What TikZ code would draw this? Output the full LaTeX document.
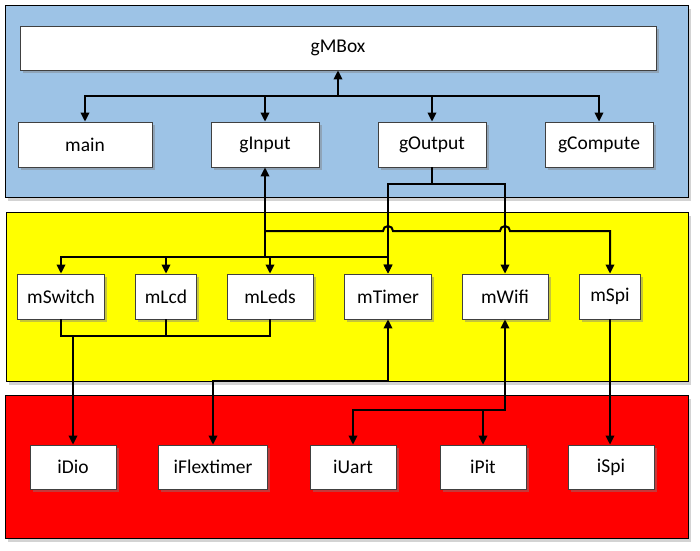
\documentclass[tikz,border=0pt]{standalone}
\usepackage{fontspec}
\setmainfont{Carlito}
\usetikzlibrary{shadows,arrows.meta,calc}
\definecolor{pblue}{RGB}{157,195,230}
\definecolor{pyellow}{RGB}{255,255,0}
\definecolor{pred}{RGB}{255,0,0}
\tikzset{
  box/.style={draw=black!75, fill=white, line width=0.8pt, minimum height=45pt, inner sep=0pt,
    font=\fontsize{19.5}{23}\selectfont,
    drop shadow={shadow xshift=2.5pt, shadow yshift=-2.5pt, opacity=0.45}},
  panel/.style={draw=black, line width=0.9pt, inner sep=0pt,
    drop shadow={shadow xshift=3pt, shadow yshift=-3.5pt, opacity=0.35}},
  conn/.style={line width=2pt, draw=black},
  arr/.style={-{Triangle[width=8.5pt,length=9pt]}},
  arrboth/.style={{Triangle[width=8.5pt,length=9pt]}-{Triangle[width=8.5pt,length=9pt]}},
  arrback/.style={{Triangle[width=8.5pt,length=9pt]}-}
}
\begin{document}
\begin{tikzpicture}[x=1pt,y=-1pt]
\useasboundingbox (0,0) rectangle (700,550);
% panels
\node[panel, fill=pblue, minimum width=683pt, minimum height=192pt] (pBlue) at (346.5,101) {};
\node[panel, fill=pyellow, minimum width=682pt, minimum height=169pt] (pYellow) at (347,296.5) {};
\node[panel, fill=pred, minimum width=683pt, minimum height=143pt] (pRed) at (346.5,466.5) {};
% top row
\node[box, minimum width=636pt, minimum height=44pt] (gMBox) at (338,48) {gMBox};
\node[box, minimum width=134pt] (main) at (85,144.5) {main};
\node[box, minimum width=108pt] (gInput) at (265,144.5) {gInput};
\node[box, minimum width=108pt] (gOutput) at (432,144.5) {gOutput};
\node[box, minimum width=108pt] (gCompute) at (599,144.5) {gCompute};
% middle row
\node[box, minimum width=87pt] (mSwitch) at (61,296.5) {mSwitch};
\node[box, minimum width=61pt] (mLcd) at (166,296.5) {mLcd};
\node[box, minimum width=86pt] (mLeds) at (270,296.5) {mLeds};
\node[box, minimum width=87pt] (mTimer) at (388,296.5) {mTimer};
\node[box, minimum width=86pt] (mWifi) at (505,296.5) {mWifi};
\node[box, minimum width=61pt] (mSpi) at (610,296.5) {mSpi};
% bottom row
\node[box, minimum width=86pt, minimum height=44pt] (iDio) at (73,467) {iDio};
\node[box, minimum width=109pt, minimum height=44pt] (iFlextimer) at (213,467) {iFlextimer};
\node[box, minimum width=86pt, minimum height=44pt] (iUart) at (353,467) {iUart};
\node[box, minimum width=86pt, minimum height=44pt] (iPit) at (483,467) {iPit};
\node[box, minimum width=86pt, minimum height=44pt] (iSpi) at (611,467) {iSpi};
% routing levels
\coordinate (yBus) at (0,96);
\coordinate (yOut) at (0,184);
\coordinate (ySpi) at (0,231);
\coordinate (yIn) at (0,257);
\coordinate (yDio) at (0,336);
\coordinate (yFlex) at (0,381);
\coordinate (yWifi) at (0,410);
% gMBox bus
\coordinate (busC) at (gMBox.south |- yBus);
\draw[conn,arr] (busC) -- (gMBox.south);
\draw[conn,arr] (busC) -| (main.north);
\draw[conn,arr] (busC) -| (gInput.north);
\draw[conn,arr] (busC) -| (gOutput.north);
\draw[conn,arr] (busC) -| (gCompute.north);
% gOutput
\coordinate (jOut) at (gOutput.south |- yOut);
\draw[conn] (gOutput.south) -- (jOut);
\draw[conn,arr] (jOut) -| (mTimer.north);
\draw[conn,arr] (jOut) -| (mWifi.north);
% gInput
\coordinate (jIn) at (gInput.south |- yIn);
\coordinate (jSpi) at (gInput.south |- ySpi);
\draw[conn, arrback] (gInput.south) -- (jIn);
\draw[conn,arr] (jIn) -| (mSwitch.north);
\draw[conn,arr] (jIn) -| (mLcd.north);
\draw[conn,arr] (jIn) -| (mLeds.north);
\draw[conn,arr] (jIn) -| (mTimer.north);
\draw[conn,arr] (jSpi) -- ($(mTimer.north |- ySpi)+(-5,0)$)
  arc[start angle=180, end angle=0, radius=5pt]
  -- ($(mWifi.north |- ySpi)+(-5,0)$)
  arc[start angle=180, end angle=0, radius=5pt]
  -| (mSpi.north);
% to iDio
\draw[conn] (mSwitch.south) |- (mLeds.south |- yDio) -- (mLeds.south);
\draw[conn] (mLcd.south) -- (mLcd.south |- yDio);
\draw[conn,arr] (iDio.north |- yDio) -- (iDio.north);
% mTimer - iFlextimer
\draw[conn,arrboth] (mTimer.south) |- (iFlextimer.north |- yFlex) -- (iFlextimer.north);
% mWifi - iUart, iPit
\draw[conn,arrboth] (mWifi.south) |- (iUart.north |- yWifi) -- (iUart.north);
\draw[conn,arr] (iPit.north |- yWifi) -- (iPit.north);
% mSpi - iSpi
\draw[conn,arr] (mSpi.south) -- (mSpi.south |- iSpi.north);
\end{tikzpicture}
\end{document}
